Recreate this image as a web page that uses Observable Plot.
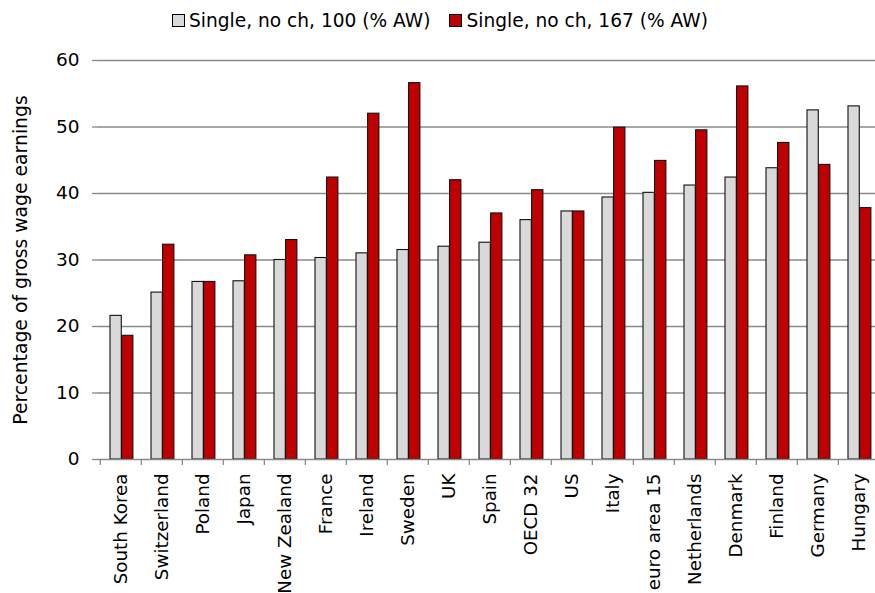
<!DOCTYPE html>
<html>
<head>
<meta charset="utf-8">
<script src="https://cdn.jsdelivr.net/npm/d3@7"></script>
<script src="https://cdn.jsdelivr.net/npm/@observablehq/plot@0.6"></script>
<style>
  html, body { margin: 0; padding: 0; background: #fff; }
  body { width: 875px; height: 593px; overflow: hidden; font-family: "DejaVu Sans", sans-serif; }
  #legend { height: 40px; display: flex; align-items: center; padding-left: 172px; font-size: 18.6px; color: #000; }
  .item { display: flex; align-items: center; }
  .sw { width: 11px; height: 11px; border: 1px solid #000; margin-right: 4px; }
</style>
</head>
<body>
<div id="legend"></div>
<div id="chart"></div>
<script>
const countries = ["South Korea","Switzerland","Poland","Japan","New Zealand","France","Ireland","Sweden","UK","Spain","OECD 32","US","Italy","euro area 15","Netherlands","Denmark","Finland","Germany","Hungary"];
const single100 = [21.6,25.1,26.7,26.8,30.0,30.3,31.0,31.5,32.0,32.6,36.0,37.3,39.4,40.1,41.2,42.4,43.8,52.5,53.1];
const single167 = [18.6,32.3,26.7,30.7,33.0,42.4,52.0,56.6,42.0,37.0,40.5,37.3,49.9,44.9,49.5,56.1,47.6,44.3,37.8];
const seriesNames = ["Single, no ch, 100 (% AW)", "Single, no ch, 167 (% AW)"];
const seriesColors = ["#d9d9d9", "#c00000"];
const yTicks = [0,10,20,30,40,50,60];
const yLabel = "Percentage of gross wage earnings";

const rows = countries.map((c, i) => ({country: c, v100: single100[i], v167: single167[i]}));

// legend
const legend = document.getElementById("legend");
seriesNames.forEach((name, i) => {
  const it = document.createElement("div");
  it.className = "item";
  it.style.marginRight = i === 0 ? "19px" : "0";
  const sw = document.createElement("div");
  sw.className = "sw";
  sw.style.background = seriesColors[i];
  const t = document.createElement("span");
  t.textContent = name;
  it.appendChild(sw); it.appendChild(t);
  legend.appendChild(it);
});

const x0 = 97, x1 = 882;
const step = (x1 - x0) / countries.length;
const grid = "#8a8a8a";

const chart = Plot.plot({
  width: 875,
  height: 553,
  marginTop: 20,
  marginBottom: 134,
  marginLeft: 97,
  marginRight: 0,
  style: {fontFamily: "DejaVu Sans, sans-serif", fontSize: "18px", color: "#000", background: "#fff"},
  x: {domain: countries, range: [x0, x1], padding: 0},
  y: {domain: [0, 60]},
  marks: [
    Plot.ruleY(yTicks.filter(d => d > 0), {y: d => d, stroke: grid, strokeWidth: 1.3}),
    Plot.barY(rows, {x: "country", y: "v100", fill: seriesColors[0], stroke: "#111", strokeWidth: 1.1, insetLeft: 10, insetRight: step - 21.6}),
    Plot.barY(rows, {x: "country", y: "v167", fill: seriesColors[1], stroke: "#111", strokeWidth: 1.1, insetLeft: 21.6, insetRight: step - 33.2}),
    Plot.ruleY([0], {stroke: grid, strokeWidth: 1.3}),
    Plot.ruleX(countries, {x: d => d, dx: -step / 2, stroke: grid, strokeWidth: 1.3, insetTop: 399, insetBottom: -6}),
    Plot.axisY({ticks: yTicks, tickSize: 5, tickPadding: 13, stroke: grid, strokeWidth: 1.3, label: null, fontSize: 18.5}),
    Plot.ruleX([0], {frameAnchor: "left", stroke: grid, strokeWidth: 1.3}),
    Plot.axisX({tickSize: 0, tickPadding: 14, tickRotate: -90, label: null, fontSize: 18.3}),
    Plot.text([yLabel], {text: d => d, frameAnchor: "left", textAnchor: "middle", lineAnchor: "middle", dx: -77, rotate: -90, fontSize: 18.8})
  ]
});
document.getElementById("chart").appendChild(chart);
</script>
</body>
</html>
